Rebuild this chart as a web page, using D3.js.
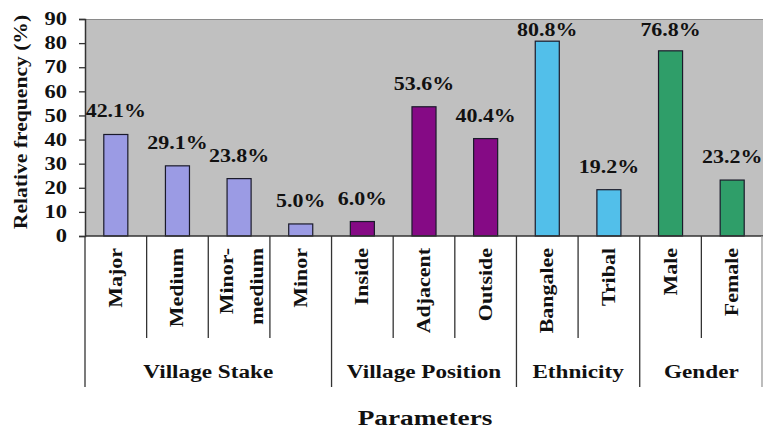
<!DOCTYPE html>
<html>
<head>
<meta charset="utf-8">
<script src="https://cdn.jsdelivr.net/npm/d3@7"></script>
<style>
  html, body { margin: 0; padding: 0; background: #fff; }
  svg { display: block; }
  text { font-family: "Liberation Serif", "Times New Roman", serif; font-weight: bold; fill: #111; }
</style>
</head>
<body>
<svg id="chart" width="763" height="429"></svg>
<script>
// Relative frequency (%) of respondents by parameter
const categories = [["Major"], ["Medium"], ["Minor-", "medium"], ["Minor"],
                    ["Inside"], ["Adjacent"], ["Outside"],
                    ["Bangalee"], ["Tribal"],
                    ["Male"], ["Female"]];
const values = [42.1, 29.1, 23.8, 5.0, 6.0, 53.6, 40.4, 80.8, 19.2, 76.8, 23.2];
const groupNames = ["Village Stake", "Village Position", "Ethnicity", "Gender"];
const groupOf = [0, 0, 0, 0, 1, 1, 1, 2, 2, 3, 3];
const groupColors = ["#9b9be4", "#850a85", "#52bfea", "#2f9e69"];
const yTicks = [0, 10, 20, 30, 40, 50, 60, 70, 80, 90];

(function () {
  const svg = d3.select("#chart");
  const plotL = 85, plotR = 763, plotT = 19, plotB = 236;
  const sx = 1.22; // wide serif face

  const ids = categories.map((c, i) => i);
  const x = d3.scaleBand().domain(ids).range([plotL, plotR]).padding(0);
  const y = d3.scaleLinear().domain([0, 90]).range([plotB, plotT]);

  // plot area
  svg.append("rect")
    .attr("x", plotL).attr("y", plotT)
    .attr("width", plotR - plotL).attr("height", plotB - plotT)
    .attr("fill", "#c0c0c0");
  svg.append("line")
    .attr("x1", plotL).attr("x2", plotR).attr("y1", plotT + 0.5).attr("y2", plotT + 0.5)
    .attr("stroke", "#8a8a8a").attr("stroke-width", 1.2);

  // bars
  const bw = x.bandwidth() * 0.39;
  svg.append("g").selectAll("rect").data(values).join("rect")
    .attr("x", (d, i) => x(i) + (x.bandwidth() - bw) / 2)
    .attr("y", d => y(d))
    .attr("width", bw)
    .attr("height", d => y(0) - y(d))
    .attr("fill", (d, i) => groupColors[groupOf[i]])
    .attr("stroke", "#1a1a2a").attr("stroke-width", 1.2);

  // value labels
  svg.append("g").selectAll("text").data(values).join("text")
    .attr("transform", (d, i) => {
      const by = Math.max(y(d) - 17, 36);
      return `translate(${x(i) + x.bandwidth() / 2},${by}) scale(${sx},1)`;
    })
    .attr("text-anchor", "middle")
    .style("font-size", "18px")
    .text(d => d.toFixed(1) + "%");

  // y axis
  const yAxis = svg.append("g")
    .attr("transform", `translate(${plotL},0)`)
    .call(d3.axisLeft(y).tickValues(yTicks).tickSize(6).tickPadding(12).tickFormat(d3.format("d")));
  yAxis.select(".domain").attr("stroke", "#333").attr("stroke-width", 1.5);
  yAxis.selectAll(".tick line").attr("stroke", "#333").attr("stroke-width", 1.3);
  yAxis.selectAll(".tick text")
    .attr("x", -18 / 1.25)
    .attr("transform", "scale(1.25,1)")
    .style("font-family", "'Liberation Serif', serif")
    .style("font-weight", "bold")
    .style("font-size", "18px")
    .attr("fill", "#111");

  // baseline
  svg.append("line")
    .attr("x1", plotL).attr("x2", plotR).attr("y1", plotB).attr("y2", plotB)
    .attr("stroke", "#333").attr("stroke-width", 1.5);

  // category dividers
  const boundaries = d3.range(categories.length + 1);
  const groupEdges = new Set([0]);
  groupOf.forEach((g, i) => { if (i === groupOf.length - 1 || groupOf[i + 1] !== g) groupEdges.add(i + 1); });
  svg.append("g").selectAll("line").data(boundaries).join("line")
    .attr("x1", i => i < categories.length ? x(i) : plotR - 1)
    .attr("x2", i => i < categories.length ? x(i) : plotR - 1)
    .attr("y1", plotB)
    .attr("y2", i => groupEdges.has(i) ? 387 : 338)
    .attr("stroke", i => i === categories.length ? "#999" : "#333")
    .attr("stroke-width", 1.3);

  // category labels (rotated)
  const catG = svg.append("g");
  categories.forEach((lines, i) => {
    const cx = x(i) + x.bandwidth() / 2;
    lines.forEach((t, k) => {
      const off = lines.length === 1 ? 6 : (k === 0 ? -6.5 : 23.5);
      catG.append("text")
        .attr("transform", `translate(${cx + off},248) rotate(-90) scale(${sx},1)`)
        .attr("text-anchor", "end")
        .style("font-size", "18px")
        .text(t);
    });
  });

  // group labels
  groupNames.forEach((name, g) => {
    const idx = groupOf.map((v, i) => v === g ? i : -1).filter(i => i >= 0);
    const x0 = x(idx[0]);
    const x1 = x(idx[idx.length - 1]) + x.bandwidth();
    svg.append("text")
      .attr("transform", `translate(${(x0 + x1) / 2},378) scale(${sx},1)`)
      .attr("text-anchor", "middle")
      .style("font-size", "19px")
      .text(name);
  });

  // axis titles
  svg.append("text")
    .attr("transform", `translate(27,122) rotate(-90) scale(1.2,1)`)
    .attr("text-anchor", "middle")
    .style("font-size", "18px")
    .text("Relative frequency (%)");

  svg.append("text")
    .attr("transform", `translate(425,425) scale(1.24,1)`)
    .attr("text-anchor", "middle")
    .style("font-size", "22px")
    .text("Parameters");
})();
</script>
</body>
</html>
